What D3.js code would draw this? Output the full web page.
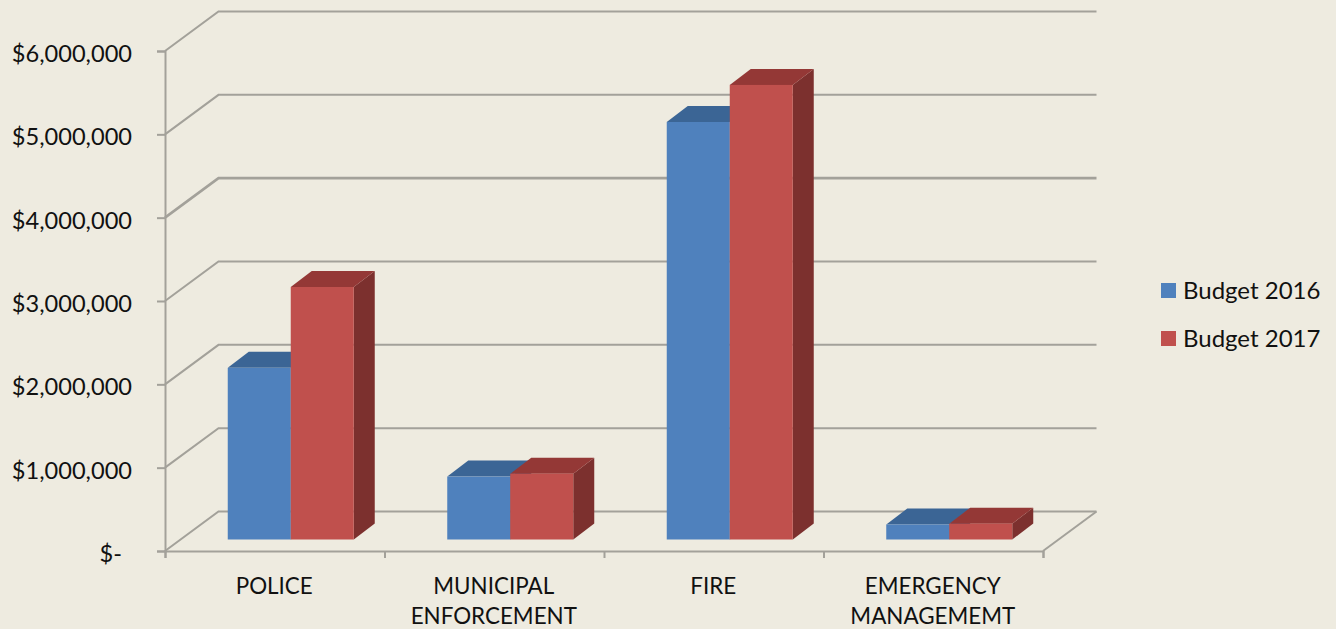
<!DOCTYPE html>
<html><head><meta charset="utf-8">
<script src="https://cdn.jsdelivr.net/npm/d3@7/dist/d3.min.js"></script>
<style>
html,body{margin:0;padding:0;background:#eeebe0;overflow:hidden}
text{font-family:Lato,"Open Sans",sans-serif;fill:#111}
</style></head><body><svg id="c" width="1336" height="629"></svg>
<script>
const categories = ["POLICE", "MUNICIPAL|ENFORCEMENT", "FIRE", "EMERGENCY|MANAGEMEMT"];
const seriesNames = ["Budget 2016", "Budget 2017"];
const budget2016 = [2060000, 755000, 5010000, 180000];
const budget2017 = [3030000, 790000, 5455000, 190000];
const tickValues = [0, 1000000, 2000000, 3000000, 4000000, 5000000, 6000000];
const seriesValues = [budget2016, budget2017];
const faces = [
  {front:"#4f81bd", top:"#3b6595", side:"#34587f"},
  {front:"#c0504d", top:"#943836", side:"#7c302e"}
];
const gridColor = "#a3a19a";
const svg = d3.select("#c");
const floorY = 551, topY = 51, left = 165, right = 1043;
const wall = {dx:53.5, dy:-39.5};       // floor depth of the box
const depth = {dx:21, dy:-16};          // depth of one bar
const inset = {dx:16, dy:-11.5};        // bars stand this far back
const x = d3.scaleBand().domain(categories).range([left, right]);
const barX = d3.scaleBand().domain([0,1]).range([-63, 63]);
const y = d3.scaleLinear().domain([0, 6000000]).range([floorY, topY]);

// back wall gridlines and left wall diagonals
const grid = svg.append("g").attr("stroke", gridColor).attr("stroke-width", 2).attr("fill","none");
grid.selectAll("path.g").data(tickValues).join("path").attr("class","g")
  .attr("stroke-width", v => v === 4000000 ? 2.6 : 2)
  .attr("d", v => `M${left},${y(v)}L${left+wall.dx},${y(v)+wall.dy}H${right+wall.dx}`);
grid.append("path").attr("d", `M${right},${floorY}L${right+wall.dx},${floorY+wall.dy}`);

// axes
const yAxis = d3.axisLeft(y).tickValues(tickValues).tickSize(8).tickPadding(25)
  .tickFormat(v => v === 0 ? "$-" : "$" + d3.format(",")(v));
const ya = svg.append("g").attr("transform", `translate(${left},0)`).call(yAxis);
const xEdges = d3.range(categories.length + 1).map(i => left + i * x.bandwidth());
const xAxis = d3.axisBottom(d3.scaleLinear().domain([left,right]).range([left,right]))
  .tickValues(xEdges).tickSize(7).tickFormat("");
const xa = svg.append("g").attr("transform", `translate(0,${floorY})`).call(xAxis);
[ya, xa].forEach(g => {
  g.selectAll(".domain").attr("stroke", gridColor).attr("stroke-width", 2);
  g.selectAll("line").attr("stroke", gridColor).attr("stroke-width", 2);
});
ya.selectAll("text").attr("font-size", 23.6).attr("fill", "#111")
  .attr("dx", v => v === 0 ? -10 : 0).attr("dy", "0.44em")
  .style("font-family", "Lato");

// bars
const groups = svg.append("g").selectAll("g").data(categories).join("g")
  .attr("transform", c => `translate(${x(c) + x.bandwidth()/2 + inset.dx},0)`);
const baseY = v => y(v) + inset.dy;
[0,1].forEach(s => {
  const w = barX.bandwidth(), f = faces[s], x0 = barX(s);
  const g = groups.append("g").datum((c,i) => seriesValues[s][i]);
  g.append("path").attr("fill", f.side)
    .attr("d", v => `M${x0+w},${baseY(0)}V${baseY(v)}l${depth.dx},${depth.dy}V${baseY(0)+depth.dy}Z`);
  g.append("path").attr("fill", f.top)
    .attr("d", v => `M${x0},${baseY(v)}l${depth.dx},${depth.dy}h${w}l${-depth.dx},${-depth.dy}Z`);
  g.append("rect").attr("fill", f.front).attr("x", x0).attr("width", w)
    .attr("y", v => baseY(v)).attr("height", v => baseY(0) - baseY(v));
});

// category labels
svg.append("g").selectAll("text").data(categories).join("text")
  .attr("text-anchor","middle").attr("font-size", 22.4)
  .attr("transform", c => `translate(${x(c) + x.bandwidth()/2 - 0.5},593.5)`)
  .selectAll("tspan").data(c => c.split("|")).join("tspan")
  .attr("x",0).attr("y",(d,i)=> i*30).text(d=>d);

// legend
const lg = svg.append("g").selectAll("g").data(seriesNames).join("g")
  .attr("transform",(d,i)=>`translate(1161,${283 + i*48})`);
lg.append("rect").attr("width",15).attr("height",15).attr("fill",(d,i)=>faces[i].front);
lg.append("text").attr("x",22).attr("y",15.5).attr("font-size",24).text(d=>d);
</script></body></html>
